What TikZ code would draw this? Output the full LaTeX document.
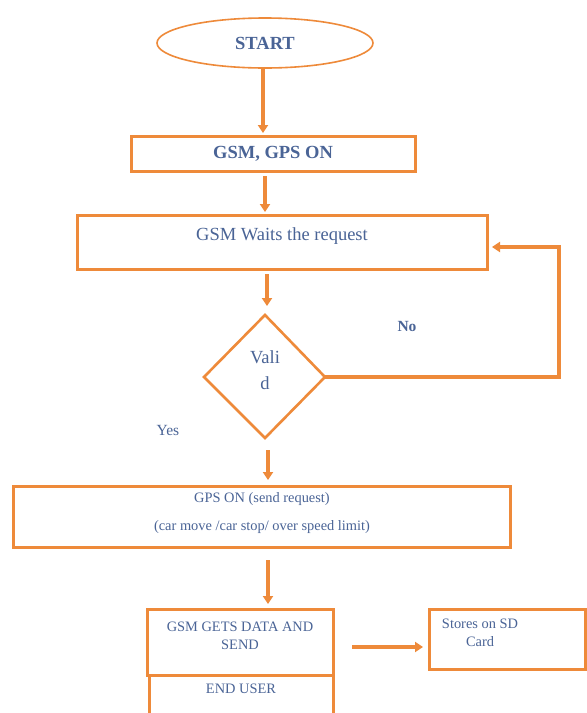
\documentclass[tikz,border=0pt]{standalone}
\usepackage{fontspec}
\setmainfont{Liberation Serif}
\usetikzlibrary{arrows.meta,shapes.geometric}
\definecolor{org}{HTML}{EE8A3A}
\definecolor{txt}{HTML}{4A6496}
\tikzset{
  box/.style={draw=org,line width=3pt,rectangle,inner sep=0pt,text=txt,align=center},
  arr/.style={draw=org,line width=3.2pt,-{Triangle[length=8pt,width=10pt]}},
  big/.style={font=\fontsize{18.5}{22}\selectfont},
  small/.style={font=\fontsize{14.4}{18.5}\selectfont},
}
\begin{document}
\begin{tikzpicture}[x=1pt,y=-1pt]
\clip (0,0) rectangle (587,713);
\fill[white] (0,0) rectangle (587,713);
% START
\node[draw=org,line width=1.6pt,ellipse,minimum width=216pt,minimum height=50pt,inner sep=0pt,text=txt,big] (start) at (265,43) {\textbf{START}};
% GSM GPS ON
\node[box,big,minimum width=284pt,minimum height=35pt] (on) at (273,153.5) {\textbf{GSM, GPS ON}};
% Waits
\node[box,big,minimum width=410pt,minimum height=54pt] (wait) at (282,242) {};
\node[text=txt,big] (waitt) at (282,236) {GSM Waits the request};
% diamond
\coordinate (dT) at (265,315);
\coordinate (dB) at (265,438);
\coordinate (dL) at (204,377);
\coordinate (dR) at (325,377);
\draw[draw=org,line width=2.6pt,line join=miter] (dT) -- (dR) -- (dB) -- (dL) -- cycle;
\node[text=txt,big] (v1) at (265,357) {Vali};
\node[text=txt,big] (v2) at (265,383) {d};
\node[text=txt,font=\fontsize{15.5}{18}\selectfont\bfseries] (no) at (407,326) {No};
\node[text=txt,font=\fontsize{15.5}{18}\selectfont] (yes) at (168,430) {Yes};
% GPS ON send request
\node[box,minimum width=497pt,minimum height=61pt] (gps) at (261.5,516.5) {};
\node[text=txt,small] (g1) at (262,499) {GPS ON (send request)};
\node[text=txt,small] (g2) at (262,527) {(car move /car stop/ over speed limit)};
% GSM gets data
\node[box,minimum width=186pt,minimum height=66pt] (gets) at (240,642) {};
\node[text=txt,small,align=center] (gt) at (240,636) {GSM GETS DATA AND\\SEND};
% END USER
\node[box,minimum width=184pt,minimum height=50pt] (end) at (241,700) {};
\node[text=txt,small] (et) at (241,689) {END USER};
% Stores
\node[box,minimum width=156pt,minimum height=60pt] (sd) at (507,639) {};
\node[text=txt,small,align=center] (st) at (480,633) {Stores on SD\\Card};
% arrows
\coordinate (a1s) at (263,69);
\coordinate (a1e) at (263,133);
\draw[arr] (a1s) -- (a1e);
\coordinate (a2s) at (265,176);
\coordinate (a2e) at (265,212);
\draw[arr] (a2s) -- (a2e);
\coordinate (a3s) at (267,274);
\coordinate (a3e) at (267,306);
\draw[arr] (a3s) -- (a3e);
\coordinate (a4s) at (268,450);
\coordinate (a4e) at (268,480);
\draw[arr] (a4s) -- (a4e);
\coordinate (a5s) at (268,560);
\coordinate (a5e) at (268,604);
\draw[arr] (a5s) -- (a5e);
\coordinate (a6s) at (352,647);
\coordinate (a6e) at (423,647);
\draw[arr] (a6s) -- (a6e);
% No loop
\coordinate (c1) at (559,377);
\coordinate (c2) at (559,247);
\coordinate (c3) at (492,247);
\draw[arr] (dR) -- (c1) -- (c2) -- (c3);
\end{tikzpicture}
\end{document}
